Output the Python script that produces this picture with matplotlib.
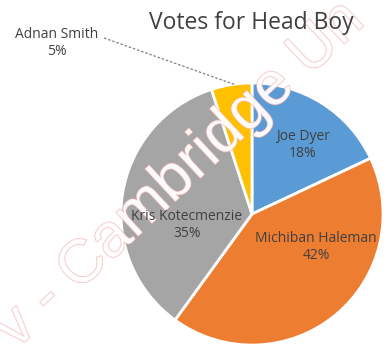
import matplotlib
matplotlib.use("Agg")
import matplotlib.pyplot as plt
import matplotlib.patheffects as pe

names = ["Joe Dyer", "Michiban Haleman", "Kris Kotecmenzie", "Adnan Smith"]
shares = [18, 42, 35, 5]
colors = ["#5B9BD5", "#ED7D31", "#A5A5A5", "#FFC000"]
explode = [0, 0.06, 0, 0]
title = "Votes for Head Boy"

W, H = 387, 354
fig = plt.figure(figsize=(W / 100, H / 100), dpi=100)
ax = fig.add_axes([0, 0, 1, 1])

font = "Open Sans"
txtc = "#404040"

cx, cy, r = 252, H - 214, 131
wedges, _ = ax.pie(shares, colors=colors, explode=explode, startangle=90,
                   counterclock=False, center=(cx, cy), radius=r,
                   wedgeprops=dict(edgecolor="white", linewidth=2),
                   frame=True)
ax.set_xlim(0, W)
ax.set_ylim(0, H)
ax.axis("off")

# labels (pixel positions from top-left)
label_pos = {
    "Joe Dyer": (303, 145),
    "Michiban Haleman": (316, 247),
    "Kris Kotecmenzie": (187, 225),
    "Adnan Smith": (57, 43),
}
for n, s in zip(names, shares):
    px, py = label_pos[n]
    ax.text(px, H - py, f"{n}\n{s}%", ha="center", va="center",
            fontsize=10, family=font, color=txtc, linespacing=1.25, zorder=20)

# leader line for small slice
ax.plot([104, 236], [H - 38, H - 85], ls=(0, (2, 1.5)), color="#808080", lw=0.9)

ax.text(251, H - 23, title, ha="center", va="center", fontsize=16.5,
        family=font, color="#404040", zorder=20)

# watermark
wm = ax.text(16, H - 350, "v - Cambridge Un", ha="left", va="baseline",
             rotation=43, rotation_mode="anchor", fontsize=44,
             family="Liberation Sans", color="white", alpha=0.8, zorder=10,
             clip_on=True)
wm.set_path_effects([pe.withStroke(linewidth=1.0, foreground="#f4b0b0")])

fig.savefig("out.png", dpi=100)
